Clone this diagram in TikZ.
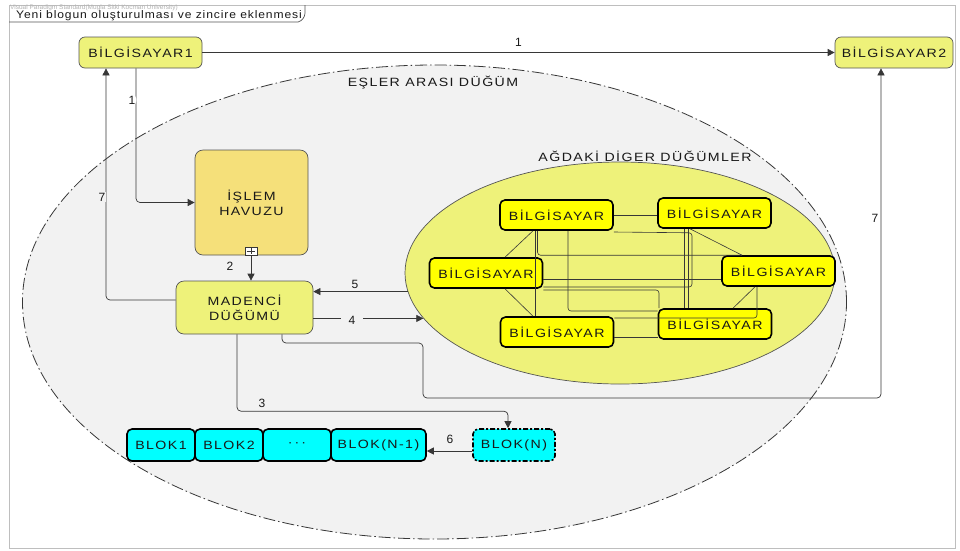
\documentclass[tikz,border=0pt]{standalone}
\usepackage{fontspec}
\setmainfont{Liberation Sans}
\newfontfamily\vpfont{Liberation Sans}[FakeStretch=1.18, LetterSpace=12]
\newfontfamily\vptitlefont{Liberation Sans}[FakeStretch=1.1, LetterSpace=8]
\usetikzlibrary{arrows.meta,shapes.geometric}
\definecolor{vpgreen}{RGB}{238,242,122}
\definecolor{poolcol}{RGB}{245,224,122}
\definecolor{bgcol}{RGB}{242,242,242}
\definecolor{aquacol}{RGB}{0,255,255}
\definecolor{brightyellow}{RGB}{255,255,0}
\definecolor{linecol}{RGB}{55,55,55}
\definecolor{boxline}{RGB}{85,85,85}
\definecolor{txtcol}{RGB}{25,25,25}
\definecolor{framecol}{RGB}{190,190,190}
\tikzset{
  vptext/.style={font=\vpfont\fontsize{12pt}{15pt}\selectfont, text=txtcol},
  softbox/.style={vptext, draw=boxline, line width=0.7pt, rounded corners=6pt, inner sep=0pt, align=center},
  peerbox/.style={vptext, draw=black, fill=brightyellow, line width=1.6pt, rounded corners=5pt, inner sep=0pt, minimum width=113pt, minimum height=30pt},
  blokbox/.style={vptext, draw=black, fill=aquacol, line width=1.6pt, rounded corners=5pt, inner sep=0pt, minimum height=32pt},
  arr/.style={draw=linecol, line width=0.7pt, -{Triangle[length=7pt,width=7pt]}},
  mesh/.style={draw=linecol, line width=0.6pt, rounded corners=3pt},
  numlbl/.style={font=\fontsize{12pt}{14pt}\selectfont, text=txtcol, inner sep=1pt}
}
\begin{document}
\begin{tikzpicture}[x=1pt,y=-1pt]
\useasboundingbox (0,0) rectangle (960,550);
\fill[white] (0,0) rectangle (960,550);
% frame
\draw[framecol, line width=0.8pt] (9,5) rectangle (955,548);
\node[anchor=west, font=\fontsize{6.5pt}{7pt}\selectfont, text=black!30, inner sep=0] (wm) at (10,8) {Visual Paradigm Standard(Mugla Sitki Kocman University)};
\draw[boxline, line width=0.7pt] (9,22) -- (298,22) .. controls (302,21) and (305,17) .. (305,13) -- (305,5);
\node[anchor=west, font=\vptitlefont\fontsize{11pt}{12pt}\selectfont, text=txtcol, inner sep=0] (title) at (16,15.5) {Yeni blogun oluşturulması ve zincire eklenmesi};

% peer-to-peer region
\node[ellipse, draw=linecol, line width=0.8pt, dash pattern=on 12pt off 3pt on 1.5pt off 3pt, fill=bgcol, minimum width=824pt, minimum height=474pt, inner sep=0] (peer) at (434.5,302) {};
\node[vptext] (peerlbl) at (433,83) {EŞLER ARASI DÜĞÜM};

\node[ellipse, draw=boxline, line width=0.7pt, fill=vpgreen, minimum width=430pt, minimum height=222pt, inner sep=0] (inner) at (620,273) {};
\node[vptext] (innerlbl) at (645,156) {AĞDAKİ DİGER DÜĞÜMLER};

% main boxes
\node[softbox, fill=vpgreen, minimum width=123pt, minimum height=31pt] (b1) at (140.5,52.5) {BİLGİSAYAR1};
\node[softbox, fill=vpgreen, minimum width=118pt, minimum height=31pt] (b2) at (894,52.5) {BİLGİSAYAR2};
\node[softbox, fill=poolcol, rounded corners=8pt, minimum width=113pt, minimum height=105pt] (pool) at (251.5,202.5) {İŞLEM\\HAVUZU};
\node[draw=linecol, fill=white, line width=0.6pt, minimum width=12pt, minimum height=8pt, inner sep=0] (plus) at (251,251) {};
\draw[linecol, line width=0.6pt] ([yshift=-1.5pt]plus.north) -- ([yshift=1.5pt]plus.south) ([xshift=2pt]plus.west) -- ([xshift=-2pt]plus.east);
\node[softbox, fill=vpgreen, rounded corners=8pt, minimum width=137pt, minimum height=53pt] (miner) at (244.5,307.5) {MADENCİ\\DÜĞÜMÜ};

% peers inside
\node[peerbox] (tl) at (556.5,215) {BİLGİSAYAR};
\node[peerbox] (tr) at (714.5,213) {BİLGİSAYAR};
\node[peerbox] (ml) at (486,273) {BİLGİSAYAR};
\node[peerbox] (mr) at (778.5,271) {BİLGİSAYAR};
\node[peerbox] (bl) at (557,332) {BİLGİSAYAR};
\node[peerbox] (br) at (715,324) {BİLGİSAYAR};

% mesh
\draw[mesh] (tl.east) -- (tl.east -| tr.west);
\draw[mesh] ([xshift=-21.5]tl.south) -- ([xshift=-21.5]tl.south |- bl.north);
\draw[mesh] ([xshift=-19]tl.south) |- ([xshift=-36.5]mr.north);
\draw[mesh] ([xshift=19]ml.north) -- ([xshift=-23.5]tl.south);
\draw[mesh] ([xshift=19]ml.south) -- ([xshift=-24]bl.north);
\draw[mesh] ([xshift=-24.5]tr.south) -- ([xshift=-36.5]mr.north);
\draw[mesh] ([xshift=-23.5]mr.south) -- ([xshift=18]br.north);
\draw[mesh] ([xshift=-21.5]mr.south) |- ([yshift=14]bl.east);
\draw[mesh] ([xshift=11.5]tl.south) |- ([yshift=13]br.west);
\draw[mesh] ([yshift=-6]ml.east) -- ([yshift=-6]ml.east -| mr.west);
\draw[mesh] ([yshift=-17]ml.east) -| ([xshift=-56]br.north);
\draw[mesh] ([yshift=-14]ml.east) -| ([xshift=-22.5,yshift=-4]tr.south) -- ([yshift=-17]tl.east);
\draw[mesh] ([xshift=-30.5]tr.south) -- ([xshift=-30.5]tr.south |- br.north);
\draw[mesh] ([xshift=-26]tr.south) -- ([xshift=-26]tr.south |- br.north);
\draw[mesh] ([yshift=-5]bl.east) -- ([yshift=-5]bl.east -| br.west);

% blocks
\node[blokbox, minimum width=68pt] (blok1) at (161,445) {BLOK1};
\node[blokbox, minimum width=68pt] (blok2) at (229,445) {BLOK2};
\node[blokbox, minimum width=68pt] (blokd) at (297,445) {·\,·\,·};
\node[blokbox, minimum width=95pt] (blokn1) at (378.5,445) {BLOK(N-1)};
\node[blokbox, minimum width=82pt, dash pattern=on 5pt off 2pt on 2pt off 2pt] (blokn) at (514,445) {BLOK(N)};

% waypoints
\coordinate (w1) at (423,343);
\coordinate (w2) at (881,398);

% connectors
\draw[arr] (b1) -- (b2) node[numlbl, midway, above=5pt] (l1a) {1};
\draw[arr, rounded corners=4pt] ([xshift=-4.5]b1.south) |- (pool.west) node[numlbl, pos=0.118, xshift=-4pt, fill=white] (l1b) {1};
\draw[arr] (plus.south) -- (plus.south |- miner.north);
\node[numlbl] (l2) at (230,266) {2};
\draw[arr, rounded corners=4pt] ([yshift=7.5]miner.west) -| ([xshift=-34.5]b1.south);
\node[numlbl, fill=bgcol] (l7a) at (102,197) {7};
\draw[arr] (inner.185.7) -- (inner.185.7 -| miner.east);
\node[numlbl] (l5) at (355,284) {5};
\draw[arr] (inner.193.2 -| miner.east) -- (inner.193.2);
\node[numlbl, fill=bgcol, inner xsep=8pt] (l4) at (352,320) {4};
\draw[arr, rounded corners=4pt] ([xshift=37.5]miner.south) |- (w1) |- (w2) -- ([xshift=-13]b2.south);
\node[numlbl, fill=white, inner ysep=4pt] (l7b) at (875,218) {7};
\draw[arr, rounded corners=4pt] ([xshift=-7.5]miner.south) |- ([xshift=-6,yshift=17]blokn.north) -- ([xshift=-6]blokn.north);
\node[numlbl] (l3) at (262,403) {3};
\draw[arr] ([yshift=-6]blokn.west) -- ([yshift=-6]blokn.west -| blokn1.east);
\node[numlbl] (l6) at (450,439) {6};
\end{tikzpicture}
\end{document}
